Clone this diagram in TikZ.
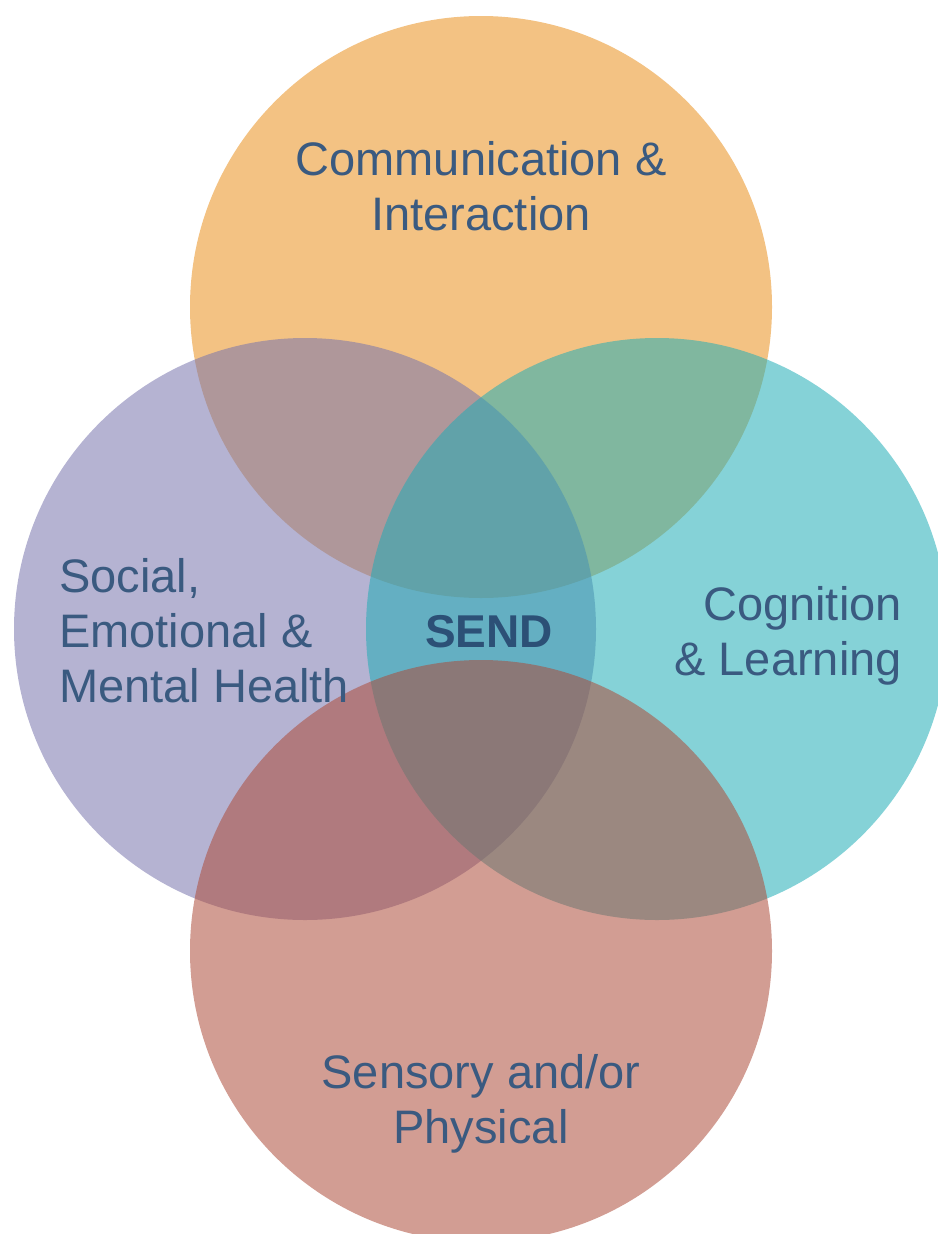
\documentclass[tikz,border=0pt]{standalone}
\usepackage{fontspec}
\setmainfont{Liberation Sans}
\definecolor{commC}{RGB}{233,144,29}
\definecolor{socC}{RGB}{120,116,173}
\definecolor{cogC}{RGB}{33,173,182}
\definecolor{sensC}{RGB}{173,76,58}
\definecolor{labelC}{RGB}{58,90,128}
\definecolor{sendC}{RGB}{44,80,118}
\begin{document}
\begin{tikzpicture}[x=1pt, y=-1pt,
    ring/.style = {circle, draw=none, inner sep=0pt, minimum size=582pt, fill opacity=0.55},
    area/.style = {text=labelC, inner sep=0pt, anchor=base, font=\fontsize{47}{55}\selectfont}]
    \useasboundingbox (0,0) rectangle (937,1234);
    \node[ring, fill=commC] (comm) at (481,307) {};
    \node[ring, fill=socC] (soc) at (305,629) {};
    \node[ring, fill=cogC] (cog) at (657,629) {};
    \node[ring, fill=sensC] (sens) at (481,951) {};
    \node[area, align=center] (commtxt) at (481,230) {Communication \&\\Interaction};
    \node[area, align=left, anchor=base west] (soctxt) at (59,702) {Social,\\Emotional \&\\Mental Health};
    \node[area, align=right, anchor=base east] (cogtxt) at (902,675) {Cognition\\\& Learning};
    \node[area, align=center] (senstxt) at (481,1143) {Sensory and/or\\Physical};
    \node[area, text=sendC, font=\fontsize{46}{55}\selectfont\bfseries] (send) at (489,647) {SEND};
\end{tikzpicture}
\end{document}
